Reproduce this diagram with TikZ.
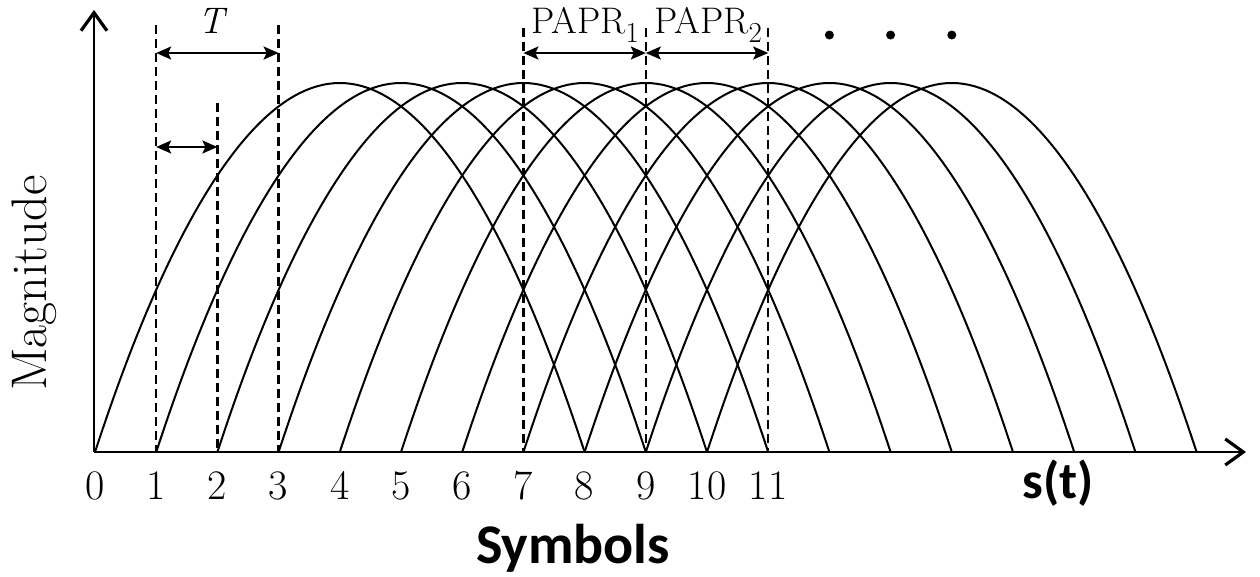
\documentclass[tikz,border=0pt]{standalone}
\usepackage{fontspec}
\newfontfamily\calibfont{Carlito}
\usetikzlibrary{arrows.meta}
\newcommand{\mysub}[1]{\raisebox{-0.25em}{\fontsize{29}{30}\selectfont #1}}
\tikzset{
  arch/.style={line width=2pt},
  axisline/.style={line width=2.4pt,-{Straight Barb[length=18pt,width=26pt,line width=3.2pt]}},
  dashv/.style={line width=2.4pt,dash pattern=on 9pt off 5pt},
  dimarrow/.style={line width=2pt,{Stealth[length=15pt,width=13pt,inset=3pt]}-{Stealth[length=15pt,width=13pt,inset=3pt]}},
  num/.style={font=\fontsize{42}{46}\selectfont,anchor=base,inner sep=0pt},
  toplabel/.style={font=\fontsize{37}{40}\selectfont,anchor=base,inner sep=0pt},
  bigsans/.style={font=\calibfont\bfseries\fontsize{56}{60}\selectfont,anchor=base,inner sep=0pt},
}
\begin{document}
\begin{tikzpicture}[x=1pt,y=-1pt,line join=round]
\useasboundingbox (0,0) rectangle (1260,576);
\def\u{61.2}
\def\xo{95}
\def\yb{452}
\def\yp{83}
% arches
\foreach \k in {0,...,10}{
  \draw[arch] ({\xo+\k*\u},\yb) parabola bend ({\xo+(\k+4)*\u},\yp) ({\xo+(\k+8)*\u},\yb);
}
% axes
\coordinate (O) at (94,\yb);
\coordinate (Xend) at (1246,\yb);
\coordinate (Yend) at (94,10);
\draw[axisline] (O) -- (Xend);
\draw[axisline] (O) -- (Yend);
% dashed verticals
\foreach \i/\t in {1/25,2/103,3/25,7/28,9/28,11/28}{
  \coordinate (dt\i) at ({\xo+\i*\u},\t);
  \coordinate (db\i) at ({\xo+\i*\u},\yb);
  \draw[dashv] (dt\i) -- (db\i);
}
% dimension arrows
\coordinate (a1) at ({\xo+1*\u},53);
\coordinate (a3) at ({\xo+3*\u},53);
\coordinate (b1) at ({\xo+1*\u},147);
\coordinate (b2) at ({\xo+2*\u},147);
\coordinate (p7) at ({\xo+7*\u},53);
\coordinate (p9) at ({\xo+9*\u},53);
\coordinate (p11) at ({\xo+11*\u},53);
\draw[dimarrow] (a1) -- (a3);
\draw[dimarrow] (b1) -- (b2);
\draw[dimarrow] (p7) -- (p9);
\draw[dimarrow] (p9) -- (p11);
% labels
\node[toplabel] (T) at (211,33) {\itshape T};
\node[toplabel] (P1) at (585,33) {PAPR\mysub{1}};
\node[toplabel] (P2) at (708,33) {PAPR\mysub{2}};
\foreach \i in {0,...,11}{
  \node[num] (n\i) at ({\xo+\i*\u},499) {\i};
}
% dots
\foreach \i in {12,13,14}{
  \fill ({\xo+\i*\u},35) circle (4.5pt);
}
\node[font=\fontsize{50}{54}\selectfont,rotate=90,anchor=base,inner sep=0pt] (mag) at (46,283) {Magnitude};
\node[bigsans,font=\calibfont\bfseries\fontsize{52}{56}\selectfont] (st) at (1058,498) {s(t)};
\node[bigsans] (sym) at (573,563) {Symbols};
\end{tikzpicture}
\end{document}
